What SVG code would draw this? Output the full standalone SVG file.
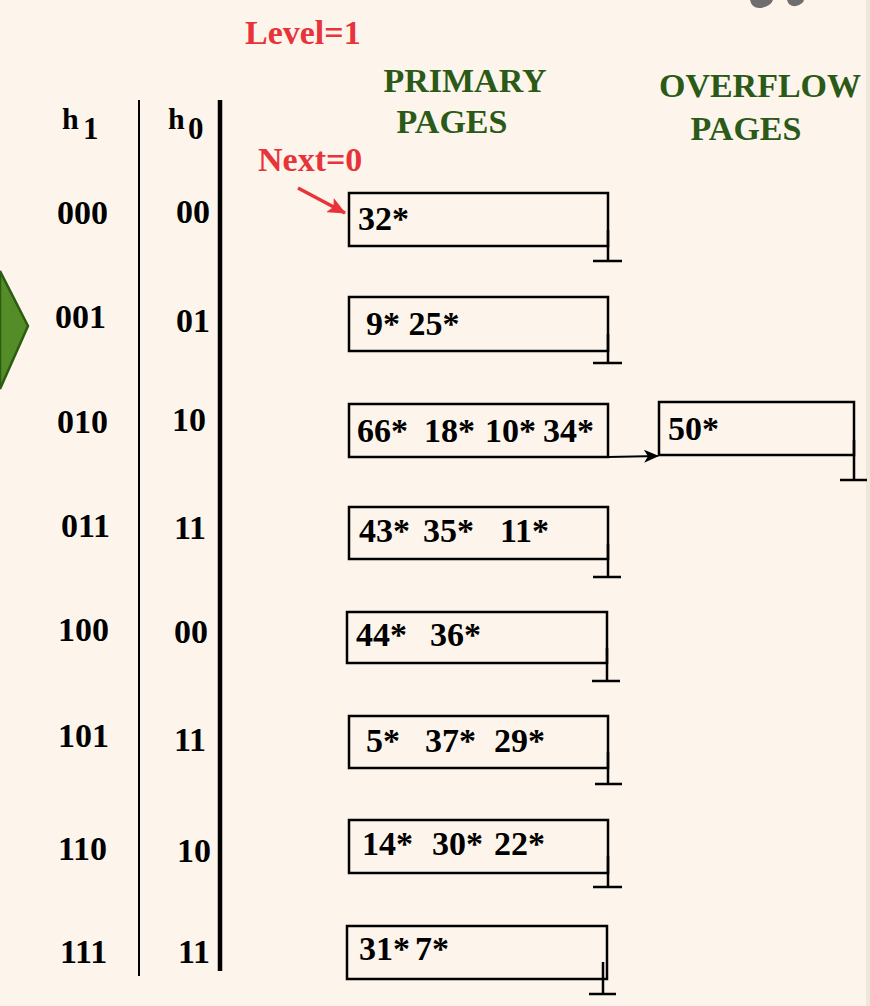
<svg xmlns="http://www.w3.org/2000/svg" width="870" height="1006" viewBox="0 0 870 1006">
<defs>
<style>
.t{font-family:"Liberation Serif","Times New Roman",serif;font-weight:bold;font-size:34px;fill:#000}
.red{fill:#E8333B}
.grn{fill:#2B5A18}
.box{fill:none;stroke:#000;stroke-width:2.5}
.gnd{fill:none;stroke:#000;stroke-width:2.5}
</style>
<marker id="ah" markerWidth="15" markerHeight="13" refX="14" refY="6.5" orient="auto" markerUnits="userSpaceOnUse" viewBox="0 0 15 13">
<path d="M0,0 L15,6.5 L0,13 L4,6.5 Z" fill="#000"/>
</marker>
<marker id="ahr" markerWidth="18" markerHeight="16" refX="17" refY="8" orient="auto" markerUnits="userSpaceOnUse" viewBox="0 0 18 16">
<path d="M0,0 L18,8 L0,16 L4,8 Z" fill="#E8333B"/>
</marker>
</defs>
<rect x="0" y="0" width="870" height="1006" fill="#FDF5EB"/>
<rect x="866" y="0" width="4" height="1006" fill="#EFE7DC"/>
<g id="decor">
<path d="M750,0 Q752,9 761,8 Q771,6 773,0 Z" fill="#6E6E6E"/>
<path d="M787,0 Q789,7 796,6 Q803,4 804,0 Z" fill="#6E6E6E"/>
<path d="M0,271 L28,326 L0,389 Z" fill="#548C28" stroke="#2C5C12" stroke-width="2.5"/>
</g>
<g id="titles">
<text class="t red" x="245" y="44">Level=1</text>
<text class="t grn" x="465" y="92" text-anchor="middle">PRIMARY</text>
<text class="t grn" x="452" y="133" text-anchor="middle">PAGES</text>
<text class="t grn" x="760" y="97" text-anchor="middle">OVERFLOW</text>
<text class="t grn" x="746" y="140" text-anchor="middle">PAGES</text>
<text class="t red" x="258" y="171">Next=0</text>
</g>
<g id="table">
<text class="t" x="62" y="129" style="font-size:30px">h</text>
<text class="t" x="83" y="139" style="font-size:31px">1</text>
<text class="t" x="168" y="129" style="font-size:30px">h</text>
<text class="t" x="188" y="139" style="font-size:31px">0</text>
<line x1="139" y1="100" x2="139" y2="976" stroke="#000" stroke-width="2"/>
<line x1="220" y1="100" x2="220" y2="971" stroke="#000" stroke-width="4.5"/>
<text class="t" x="57" y="224">000</text>
<text class="t" x="55" y="328">001</text>
<text class="t" x="57" y="433">010</text>
<text class="t" x="61" y="537">011</text>
<text class="t" x="58" y="641">100</text>
<text class="t" x="58" y="747">101</text>
<text class="t" x="58" y="860">110</text>
<text class="t" x="60" y="963">111</text>
<text class="t" x="176" y="223">00</text>
<text class="t" x="176" y="332">01</text>
<text class="t" x="172" y="431">10</text>
<text class="t" x="174" y="539">11</text>
<text class="t" x="174" y="643">00</text>
<text class="t" x="174" y="751">11</text>
<text class="t" x="177" y="862">10</text>
<text class="t" x="178" y="963">11</text>
</g>
<g id="page0">
<rect class="box" x="349" y="193" width="259" height="53"/>
<path class="gnd" d="M608,230 V261 M593,261 H622"/>
<text class="t" x="358" y="230">32*</text>
</g>
<g id="page1">
<rect class="box" x="349" y="297" width="259" height="54"/>
<path class="gnd" d="M608,334 V363 M593,363 H622"/>
<text class="t" x="366" y="335">9* 25*</text>
</g>
<g id="page2">
<rect class="box" x="349" y="404" width="259" height="53"/>
<text class="t" y="442"><tspan x="357">66*</tspan><tspan x="424">18*</tspan><tspan x="485">10*</tspan><tspan x="543">34*</tspan></text>
</g>
<g id="overflow2">
<rect class="box" x="659" y="402" width="195" height="53"/>
<path class="gnd" d="M854,440 V480 M840,480 H867"/>
<text class="t" x="668" y="440">50*</text>
</g>
<g id="page3">
<rect class="box" x="349" y="507" width="259" height="52"/>
<path class="gnd" d="M608,544 V577 M593,577 H621"/>
<text class="t" y="542"><tspan x="359">43*</tspan><tspan x="423">35*</tspan><tspan x="500">11*</tspan></text>
</g>
<g id="page4">
<rect class="box" x="347" y="612" width="260" height="51"/>
<path class="gnd" d="M607,648 V681 M592,681 H620"/>
<text class="t" y="646"><tspan x="356">44*</tspan><tspan x="430">36*</tspan></text>
</g>
<g id="page5">
<rect class="box" x="349" y="716" width="259" height="52"/>
<path class="gnd" d="M608,752 V784 M595,784 H622"/>
<text class="t" y="752"><tspan x="366">5*</tspan><tspan x="425">37*</tspan><tspan x="494">29*</tspan></text>
</g>
<g id="page6">
<rect class="box" x="349" y="820" width="259" height="53"/>
<path class="gnd" d="M608,856 V887 M593,887 H622"/>
<text class="t" y="855"><tspan x="362">14*</tspan><tspan x="432">30*</tspan><tspan x="494">22*</tspan></text>
</g>
<g id="page7">
<rect class="box" x="347" y="926" width="260" height="53"/>
<path class="gnd" d="M603,962 V994 M589,994 H616"/>
<text class="t" y="960"><tspan x="359">31*</tspan><tspan x="415">7*</tspan></text>
</g>
<g id="connectors">
<line x1="298" y1="188" x2="345" y2="213" stroke="#E8333B" stroke-width="3.5" marker-end="url(#ahr)"/>
<line x1="608" y1="457" x2="658" y2="456" stroke="#000" stroke-width="2" marker-end="url(#ah)"/>
</g>
</svg>
